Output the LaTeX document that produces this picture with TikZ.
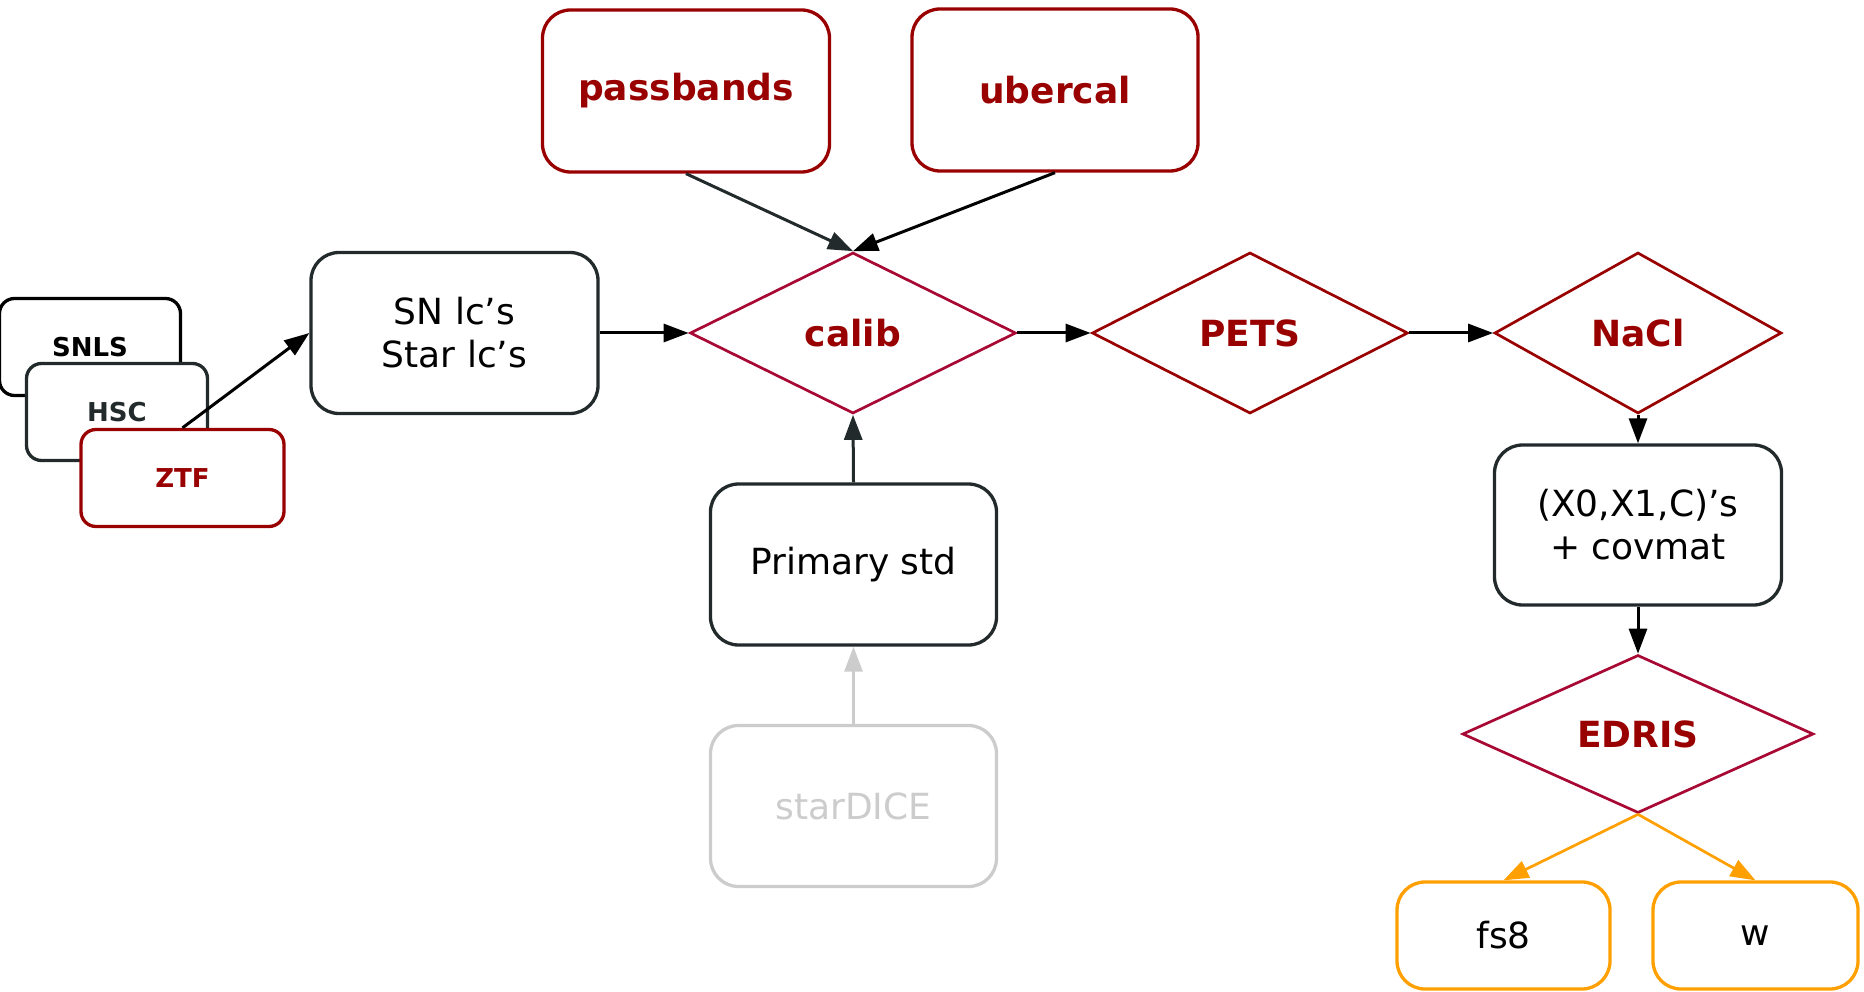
\documentclass[tikz,border=0pt]{standalone}
\usepackage{fontspec}
\setmainfont{DejaVu Sans}
\usetikzlibrary{shapes.geometric,arrows.meta}
\definecolor{dred}{RGB}{153,0,0}
\definecolor{crim}{RGB}{168,8,52}
\definecolor{slate}{RGB}{34,42,43}
\definecolor{orng}{RGB}{255,160,0}
\definecolor{lgray}{RGB}{204,204,204}
\begin{document}
\begin{tikzpicture}[x=1pt,y=-1pt,
  bigfont/.style={font=\fontsize{36}{43}\selectfont},
  box/.style={draw=slate, line width=3.3pt, rounded corners=28pt, fill=white, inner sep=0pt, align=center, bigfont},
  redbox/.style={box, draw=dred, text=dred, font=\fontsize{36}{43}\selectfont\bfseries},
  smallbox/.style={draw=slate, line width=3.3pt, rounded corners=15pt, fill=white, inner sep=0pt, minimum width=181pt, minimum height=97pt, font=\fontsize{26}{30}\selectfont\bfseries},
  orbox/.style={box, draw=orng},
  dia/.style={diamond, draw=dred, line width=2.7pt, inner sep=0pt, text=dred, font=\fontsize{36}{43}\selectfont\bfseries},
  arr/.style={line width=3pt, -{Triangle[length=25pt,width=18pt]}},
]
\useasboundingbox (0,0) rectangle (1864,992);

% top inputs
\node[redbox, minimum width=287pt, minimum height=162pt] (pass) at (686,91) {passbands};
\node[redbox, minimum width=286pt, minimum height=162pt] (uber) at (1055,90) {ubercal};

% survey stack
\node[smallbox, draw=black, text=black] (snls) at (90,347) {SNLS};
\node[smallbox, text=slate] (hsc) at (117,412) {HSC};
\node[smallbox, draw=dred, text=dred, minimum width=203pt] (ztf) at (182.5,478) {ZTF};

% light curves
\node[box, minimum width=287pt, minimum height=161pt] (lc) at (454.5,333) {SN lc’s\\Star lc’s};

% diamonds
\node[dia, draw=crim, minimum width=326pt, minimum height=161pt] (calib) at (853,333) {calib};
\node[dia, minimum width=316pt, minimum height=161pt] (pets) at (1250,333) {PETS};
\node[dia, minimum width=287pt, minimum height=161pt] (nacl) at (1638,333) {NaCl};

% primary std / starDICE
\node[box, minimum width=286pt, minimum height=161pt] (prim) at (853.5,564.5) {Primary std};
\node[box, draw=lgray, text=lgray, minimum width=286pt, minimum height=161pt] (star) at (853.5,806) {starDICE};

% right column
\node[box, minimum width=287pt, minimum height=160pt] (xc) at (1638,525) {(X0,X1,C)’s\\+ covmat};
\node[dia, draw=crim, minimum width=351pt, minimum height=158pt] (edris) at (1638,734) {EDRIS};
\node[orbox, minimum width=213pt, minimum height=107pt] (fs) at (1503.5,935.5) {fs8};
\node[orbox, minimum width=205pt, minimum height=107pt] (w) at (1755.5,935.5) {w};

% connectors
\draw[arr, black] (ztf.north) -- (lc.west);
\draw[arr, slate] (pass.south) -- (calib.north);
\draw[arr, black] (uber.south) -- (calib.north);
\draw[arr, black] (lc.east) -- (calib.west);
\draw[arr, black] (calib.east) -- (pets.west);
\draw[arr, black] (pets.east) -- (nacl.west);
\draw[arr, slate] (prim.north) -- (calib.south);
\draw[arr, lgray] (star.north) -- (prim.south);
\draw[arr, black] (nacl.south) -- (xc.north);
\draw[arr, black] (xc.south) -- (edris.north);
\draw[arr, orng, line width=2.7pt] (edris.south) -- (fs.north);
\draw[arr, orng, line width=2.7pt] (edris.south) -- (w.north);
\end{tikzpicture}
\end{document}
